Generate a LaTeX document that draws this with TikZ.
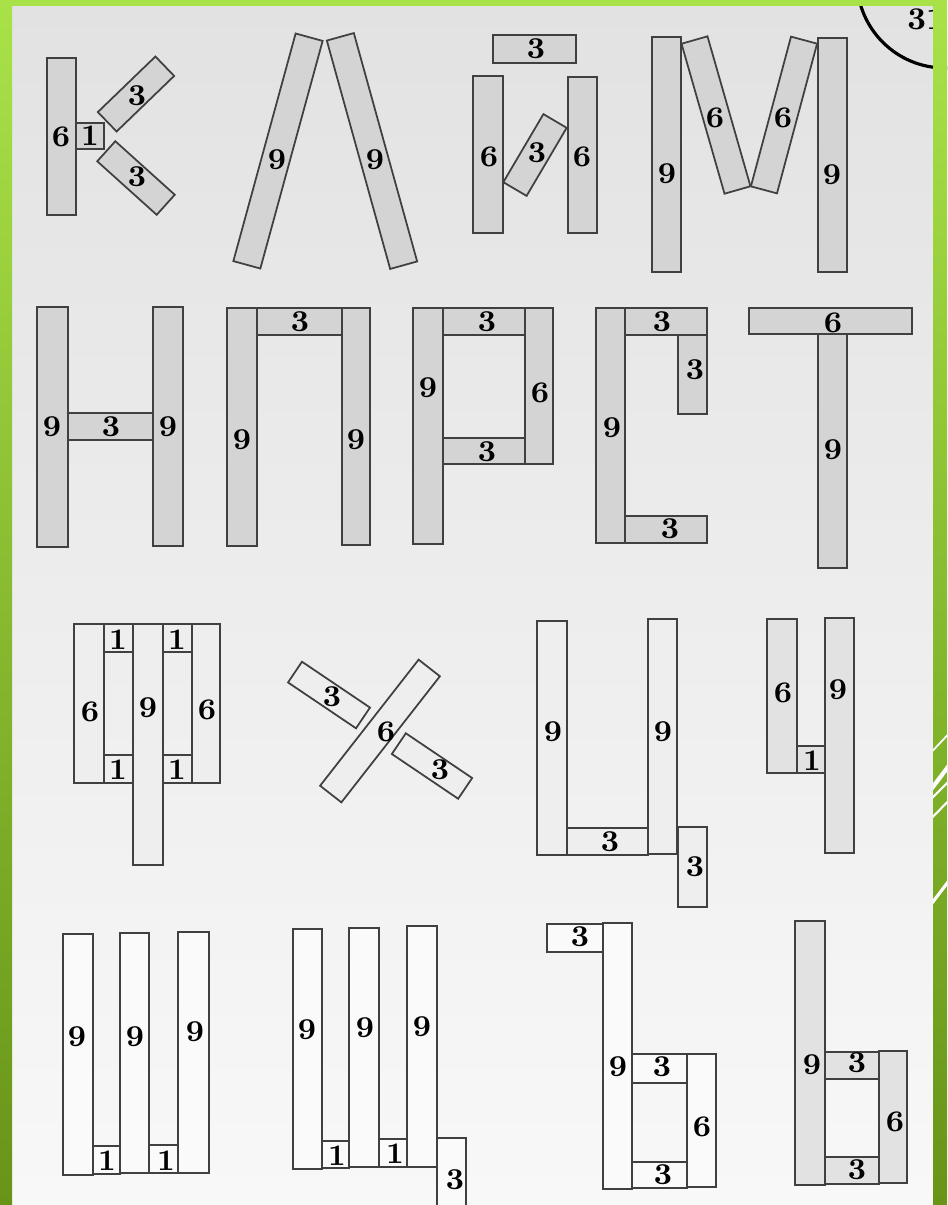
\documentclass[tikz,border=0pt]{standalone}
\usepackage{fontspec}
\usepackage{xcolor}
\usepackage{tikz}

\newfontfamily\oldfig{Latin Modern Roman}[Numbers=OldStyle]

\definecolor{limetop}{RGB}{168,226,72}
\definecolor{limebot}{RGB}{104,148,24}
\definecolor{papertop}{RGB}{226,226,226}
\definecolor{paperbot}{RGB}{248,248,248}

% old style figures for the stick lengths
\newcommand{\stnum}[1]{{\oldfig\bfseries #1}}
\newcommand{\stone}{{\bfseries 1}}
% a stick turned round its middle: style, centre, angle, length, width
\newcommand{\tiltstick}[5][stick]{%
    \draw[#1, shift={(#2)}, rotate=#3] (-#4/2,-#5/2) rectangle (#4/2,#5/2);}

\begin{document}
\begin{tikzpicture}[
    x=0.01cm, y=-0.01cm,
    stick/.style={
        draw=black!75,
        line width=0.5pt,
        fill={rgb,255:red,212;green,212;blue,212}
    },
    light/.style={stick, fill={rgb,255:red,226;green,226;blue,226}},
    pale/.style={stick, fill={rgb,255:red,238;green,238;blue,238}},
    bare/.style={stick, fill={rgb,255:red,250;green,250;blue,250}},
    num/.style={inner sep=0pt, font=\fontsize{8.5}{9}\selectfont}
]

    \clip (0,0) rectangle (947,1205);
    \shade[top color=papertop, bottom color=paperbot] (0,0) rectangle (947,1205);

    % page number in the corner
    \draw[line width=0.9pt] (945,-20) circle (88);
    \node[font=\bfseries\fontsize{9}{10}\selectfont] (page) at (926,19) {31};

    % --- row 1 ---
    % K
    \draw[stick] (47,58) rectangle (76,215);
    \draw[stick] (76,123) rectangle (104,149);
    \tiltstick{136,94}{44}{80}{27}
    \tiltstick{136,178}{-42}{80}{27}
    \node[num] (ka6) at (61,137) {\stnum{6}};
    \node[num] (ka1) at (90,136) {\stone};
    \node[num] (ka3a) at (137,96) {\stnum{3}};
    \node[num] (ka3b) at (137,177) {\stnum{3}};

    % L
    \tiltstick{278,151}{74.7}{236}{28}
    \tiltstick{372,151}{105.5}{237}{28}
    \node[num] (el9a) at (277,160) {\stnum{9}};
    \node[num] (el9b) at (375,160) {\stnum{9}};

    % I short
    \draw[stick] (493,35) rectangle (576,63);
    \draw[stick] (473,76) rectangle (503,233);
    \draw[stick] (568,77) rectangle (597,233);
    \tiltstick{535,155}{59.5}{79}{27}
    \node[num] (ik3a) at (536,49) {\stnum{3}};
    \node[num] (ik6a) at (489,157) {\stnum{6}};
    \node[num] (ik6b) at (582,157) {\stnum{6}};
    \node[num] (ik3b) at (537,153) {\stnum{3}};

    % M
    \draw[stick] (652,37) rectangle (681,272);
    \draw[stick] (818,38) rectangle (847,272);
    \tiltstick{716,115}{106}{156}{27}
    \tiltstick{784,115}{75}{155}{27}
    \node[num] (em9a) at (667,174) {\stnum{9}};
    \node[num] (em9b) at (832,175) {\stnum{9}};
    \node[num] (em6a) at (715,118) {\stnum{6}};
    \node[num] (em6b) at (783,118) {\stnum{6}};

    % --- row 2 ---
    % N
    \draw[stick] (37,307) rectangle (68,547);
    \draw[stick] (153,307) rectangle (183,546);
    \draw[stick] (68,413) rectangle (153,440);
    \node[num] (en9a) at (52,427) {\stnum{9}};
    \node[num] (en9b) at (168,427) {\stnum{9}};
    \node[num] (en3) at (111,427) {\stnum{3}};

    % P
    \draw[stick] (227,308) rectangle (257,546);
    \draw[stick] (342,308) rectangle (370,545);
    \draw[stick] (257,308) rectangle (342,335);
    \node[num] (pe9a) at (242,440) {\stnum{9}};
    \node[num] (pe9b) at (356,440) {\stnum{9}};
    \node[num] (pe3) at (300,322) {\stnum{3}};

    % R
    \draw[stick] (413,308) rectangle (443,544);
    \draw[stick] (443,308) rectangle (525,335);
    \draw[stick] (525,308) rectangle (553,464);
    \draw[stick] (443,438) rectangle (525,464);
    \node[num] (er9) at (428,388) {\stnum{9}};
    \node[num] (er3a) at (487,322) {\stnum{3}};
    \node[num] (er6) at (540,393) {\stnum{6}};
    \node[num] (er3b) at (487,452) {\stnum{3}};

    % S
    \draw[stick] (596,308) rectangle (625,543);
    \draw[stick] (625,308) rectangle (707,335);
    \draw[stick] (678,335) rectangle (707,414);
    \draw[stick] (625,516) rectangle (707,543);
    \node[num] (es9) at (612,428) {\stnum{9}};
    \node[num] (es3a) at (662,322) {\stnum{3}};
    \node[num] (es3b) at (695,370) {\stnum{3}};
    \node[num] (es3c) at (670,529) {\stnum{3}};

    % T
    \draw[stick] (749,308) rectangle (912,334);
    \draw[stick] (818,334) rectangle (847,568);
    \node[num] (te6) at (833,323) {\stnum{6}};
    \node[num] (te9) at (833,450) {\stnum{9}};

    % --- row 3 ---
    % F
    \draw[pale] (74,624) rectangle (104,783);
    \draw[pale] (104,624) rectangle (133,652);
    \draw[pale] (104,755) rectangle (133,783);
    \draw[pale] (133,624) rectangle (163,865);
    \draw[pale] (163,624) rectangle (192,652);
    \draw[pale] (163,755) rectangle (192,783);
    \draw[pale] (192,624) rectangle (220,783);
    \node[num] (ef6a) at (90,712) {\stnum{6}};
    \node[num] (ef1a) at (118,640) {\stone};
    \node[num] (ef1b) at (118,770) {\stone};
    \node[num] (ef9) at (148,708) {\stnum{9}};
    \node[num] (ef1c) at (177,640) {\stone};
    \node[num] (ef1d) at (177,770) {\stone};
    \node[num] (ef6b) at (207,710) {\stnum{6}};

    % Zh
    \tiltstick[pale]{329,695}{-34}{82}{25}
    \tiltstick[pale]{432,766}{-34}{80}{25}
    \tiltstick[pale]{380,731}{52}{160}{27}
    \node[num] (zh3a) at (332,697) {\stnum{3}};
    \node[num] (zh3b) at (440,770) {\stnum{3}};
    \node[num] (zh6) at (386,732) {\stnum{6}};

    % Ts
    \draw[pale] (537,621) rectangle (567,855);
    \draw[pale] (648,619) rectangle (677,854);
    \draw[pale] (567,828) rectangle (648,855);
    \draw[pale] (678,827) rectangle (707,907);
    \node[num] (ts9a) at (553,732) {\stnum{9}};
    \node[num] (ts9b) at (663,732) {\stnum{9}};
    \node[num] (ts3a) at (610,842) {\stnum{3}};
    \node[num] (ts3b) at (695,867) {\stnum{3}};

    % Ch
    \draw[light] (767,619) rectangle (797,773);
    \draw[light] (797,746) rectangle (825,773);
    \draw[light] (825,618) rectangle (854,853);
    \node[num] (ch6) at (783,693) {\stnum{6}};
    \node[num] (ch1) at (812,761) {\stone};
    \node[num] (ch9) at (838,690) {\stnum{9}};

    % --- row 4 ---
    % Sh
    \draw[bare] (63,934) rectangle (93,1175);
    \draw[bare] (93,1146) rectangle (120,1174);
    \draw[bare] (120,933) rectangle (149,1173);
    \draw[bare] (149,1145) rectangle (178,1173);
    \draw[bare] (178,932) rectangle (209,1173);
    \node[num] (sh9a) at (77,1037) {\stnum{9}};
    \node[num] (sh1a) at (107,1161) {\stone};
    \node[num] (sh9b) at (135,1037) {\stnum{9}};
    \node[num] (sh1b) at (166,1161) {\stone};
    \node[num] (sh9c) at (195,1032) {\stnum{9}};

    % Shch
    \draw[bare] (293,929) rectangle (322,1169);
    \draw[bare] (322,1141) rectangle (349,1168);
    \draw[bare] (349,928) rectangle (379,1167);
    \draw[bare] (379,1139) rectangle (407,1167);
    \draw[bare] (407,926) rectangle (437,1167);
    \draw[bare] (437,1138) rectangle (466,1220);
    \node[num] (sc9a) at (307,1030) {\stnum{9}};
    \node[num] (sc1a) at (337,1156) {\stone};
    \node[num] (sc9b) at (365,1028) {\stnum{9}};
    \node[num] (sc1b) at (395,1154) {\stone};
    \node[num] (sc9c) at (422,1027) {\stnum{9}};
    \node[num] (sc3) at (455,1180) {\stnum{3}};

    % hard sign
    \draw[bare] (547,924) rectangle (603,952);
    \draw[bare] (603,923) rectangle (632,1189);
    \draw[bare] (632,1054) rectangle (687,1083);
    \draw[bare] (687,1054) rectangle (716,1187);
    \draw[bare] (632,1162) rectangle (687,1188);
    \node[num] (hs3a) at (580,937) {\stnum{3}};
    \node[num] (hs9) at (618,1067) {\stnum{9}};
    \node[num] (hs3b) at (662,1067) {\stnum{3}};
    \node[num] (hs6) at (702,1127) {\stnum{6}};
    \node[num] (hs3c) at (663,1175) {\stnum{3}};

    % soft sign
    \draw[light] (795,921) rectangle (825,1185);
    \draw[light] (825,1052) rectangle (879,1079);
    \draw[light] (879,1051) rectangle (907,1183);
    \draw[light] (825,1157) rectangle (879,1184);
    \node[num] (ss9) at (812,1065) {\stnum{9}};
    \node[num] (ss3a) at (857,1063) {\stnum{3}};
    \node[num] (ss6) at (895,1122) {\stnum{6}};
    \node[num] (ss3b) at (857,1170) {\stnum{3}};

    % green slide frame
    \shade[top color=limetop, bottom color=limebot] (0,0) rectangle (12,1205);
    \shade[top color=limetop, bottom color=limebot] (933,0) rectangle (947,1205);
    \fill[limetop] (0,0) rectangle (947,6);
    \begin{scope}
        \clip (933,0) rectangle (947,1205);
        \draw[white, line width=0.5pt] (923,761) -- (957,725);
        \draw[white, line width=1.2pt] (923,800) -- (957,755);
        \draw[white, line width=0.6pt] (923,807) -- (957,773);
        \draw[white, line width=0.6pt] (923,827) -- (957,792);
        \draw[white, line width=0.9pt] (923,915) -- (957,870);
    \end{scope}

\end{tikzpicture}
\end{document}
